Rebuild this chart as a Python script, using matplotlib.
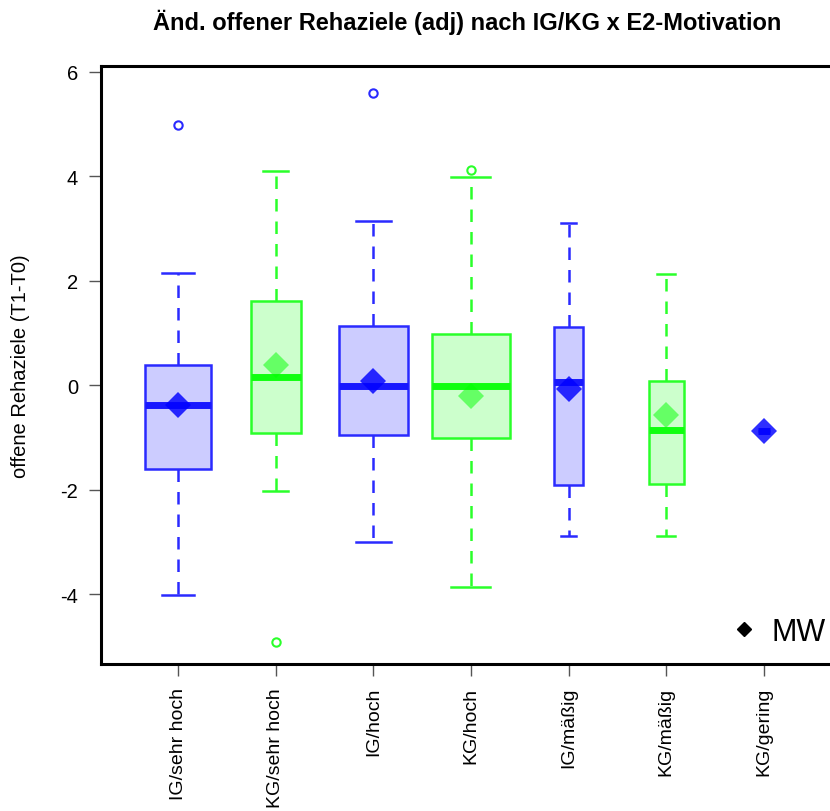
import matplotlib
matplotlib.use("Agg")
import matplotlib.pyplot as plt
from matplotlib.lines import Line2D

plt.rcParams['font.family'] = ['Liberation Sans', 'DejaVu Sans']

categories = ["IG/sehr hoch", "KG/sehr hoch", "IG/hoch", "KG/hoch", "IG/mäßig", "KG/mäßig", "KG/gering"]
groups = ["IG", "KG", "IG", "KG", "IG", "KG", "IG"]
whis_lo = [-4.01, -2.02, -3.01, -3.87, -2.89, -2.89, -0.88]
q1 = [-1.61, -0.92, -0.96, -1.01, -1.91, -1.90, -0.88]
medians = [-0.38, 0.15, -0.02, -0.02, 0.06, -0.86, -0.88]
q3 = [0.38, 1.61, 1.14, 0.97, 1.12, 0.07, -0.88]
whis_hi = [2.14, 4.09, 3.14, 3.98, 3.11, 2.12, -0.88]
means = [-0.38, 0.39, 0.07, -0.20, -0.08, -0.57, -0.88]
outliers = [[4.98], [-4.92], [5.6], [4.11], [], [], []]
box_widths = [0.67, 0.51, 0.71, 0.80, 0.30, 0.36, 0.12]

edge_col = {"IG": "#2a2aff", "KG": "#2aff2a"}
fill_col = {"IG": "#ccccff", "KG": "#ccffcc"}
med_col = {"IG": "#1818ff", "KG": "#10ff10"}
mean_col = {"IG": "#0000ff", "KG": "#00ff00"}
mean_alpha = {"IG": 0.82, "KG": 0.5}

fig = plt.figure(figsize=(8.3, 8.12), dpi=100)
ax = fig.add_axes([101/830, (812-665)/812, (833-101)/830, (665-67)/812])

positions = list(range(1, len(categories) + 1))
for i, pos in enumerate(positions):
    g = groups[i]
    stats = [dict(med=medians[i], q1=q1[i], q3=q3[i], whislo=whis_lo[i],
                  whishi=whis_hi[i], fliers=outliers[i], label=categories[i])]
    ax.bxp(stats, positions=[pos], widths=[box_widths[i]], patch_artist=True,
           showfliers=True, manage_ticks=False,
           boxprops=dict(facecolor=fill_col[g], edgecolor=edge_col[g], linewidth=1.8),
           whiskerprops=dict(color=edge_col[g], linewidth=1.8, linestyle=(0, (5, 4))),
           capprops=dict(color=edge_col[g], linewidth=1.8),
           capwidths=[box_widths[i] / 2],
           medianprops=dict(color=med_col[g], linewidth=5, solid_capstyle='butt'),
           flierprops=dict(marker='o', markerfacecolor='none', markeredgecolor=edge_col[g],
                           markersize=6, markeredgewidth=1.5, linestyle='none'))
    ax.plot([pos], [means[i]], marker='D', markersize=13, color=mean_col[g],
            alpha=mean_alpha[g], markeredgewidth=0, linestyle='none', zorder=5)

ax.set_xlim(0.21, 7.71)
ax.set_ylim(-5.34, 6.11)
ax.set_yticks([-4, -2, 0, 2, 4, 6])
ax.set_yticklabels(["-4", "-2", "0", "2", "4", "6"], fontsize=14.5)
ax.set_xticks(positions)
ax.set_xticklabels(categories, rotation=90, fontsize=14)
ax.tick_params(axis='both', colors='#555555', labelcolor='black', length=8.5, width=1)
ax.tick_params(axis='y', pad=8)
ax.tick_params(axis='x', pad=8)
for s in ['left', 'bottom', 'top', 'right']:
    ax.spines[s].set_linewidth(2.2)
    ax.spines[s].set_color('black')

ax.set_ylabel("offene Rehaziele (T1-T0)", fontsize=14.5)
ax.yaxis.set_label_coords(-(101-30)/(833-101), 0.5)
fig.text(467/830, 1 - 22/812, "Änd. offener Rehaziele (adj) nach IG/KG x E2-Motivation",
         fontsize=17, fontweight='bold', ha='center', va='center')

handle = Line2D([], [], marker='D', color='black', markersize=7, linestyle='none')
ax.legend([handle], ["MW"], loc='lower right', bbox_to_anchor=((838-101)/(833-101), 0.008),
          frameon=False, fontsize=22, handletextpad=0.3, handlelength=1.2, borderaxespad=0)

fig.savefig("out.png", dpi=100)
